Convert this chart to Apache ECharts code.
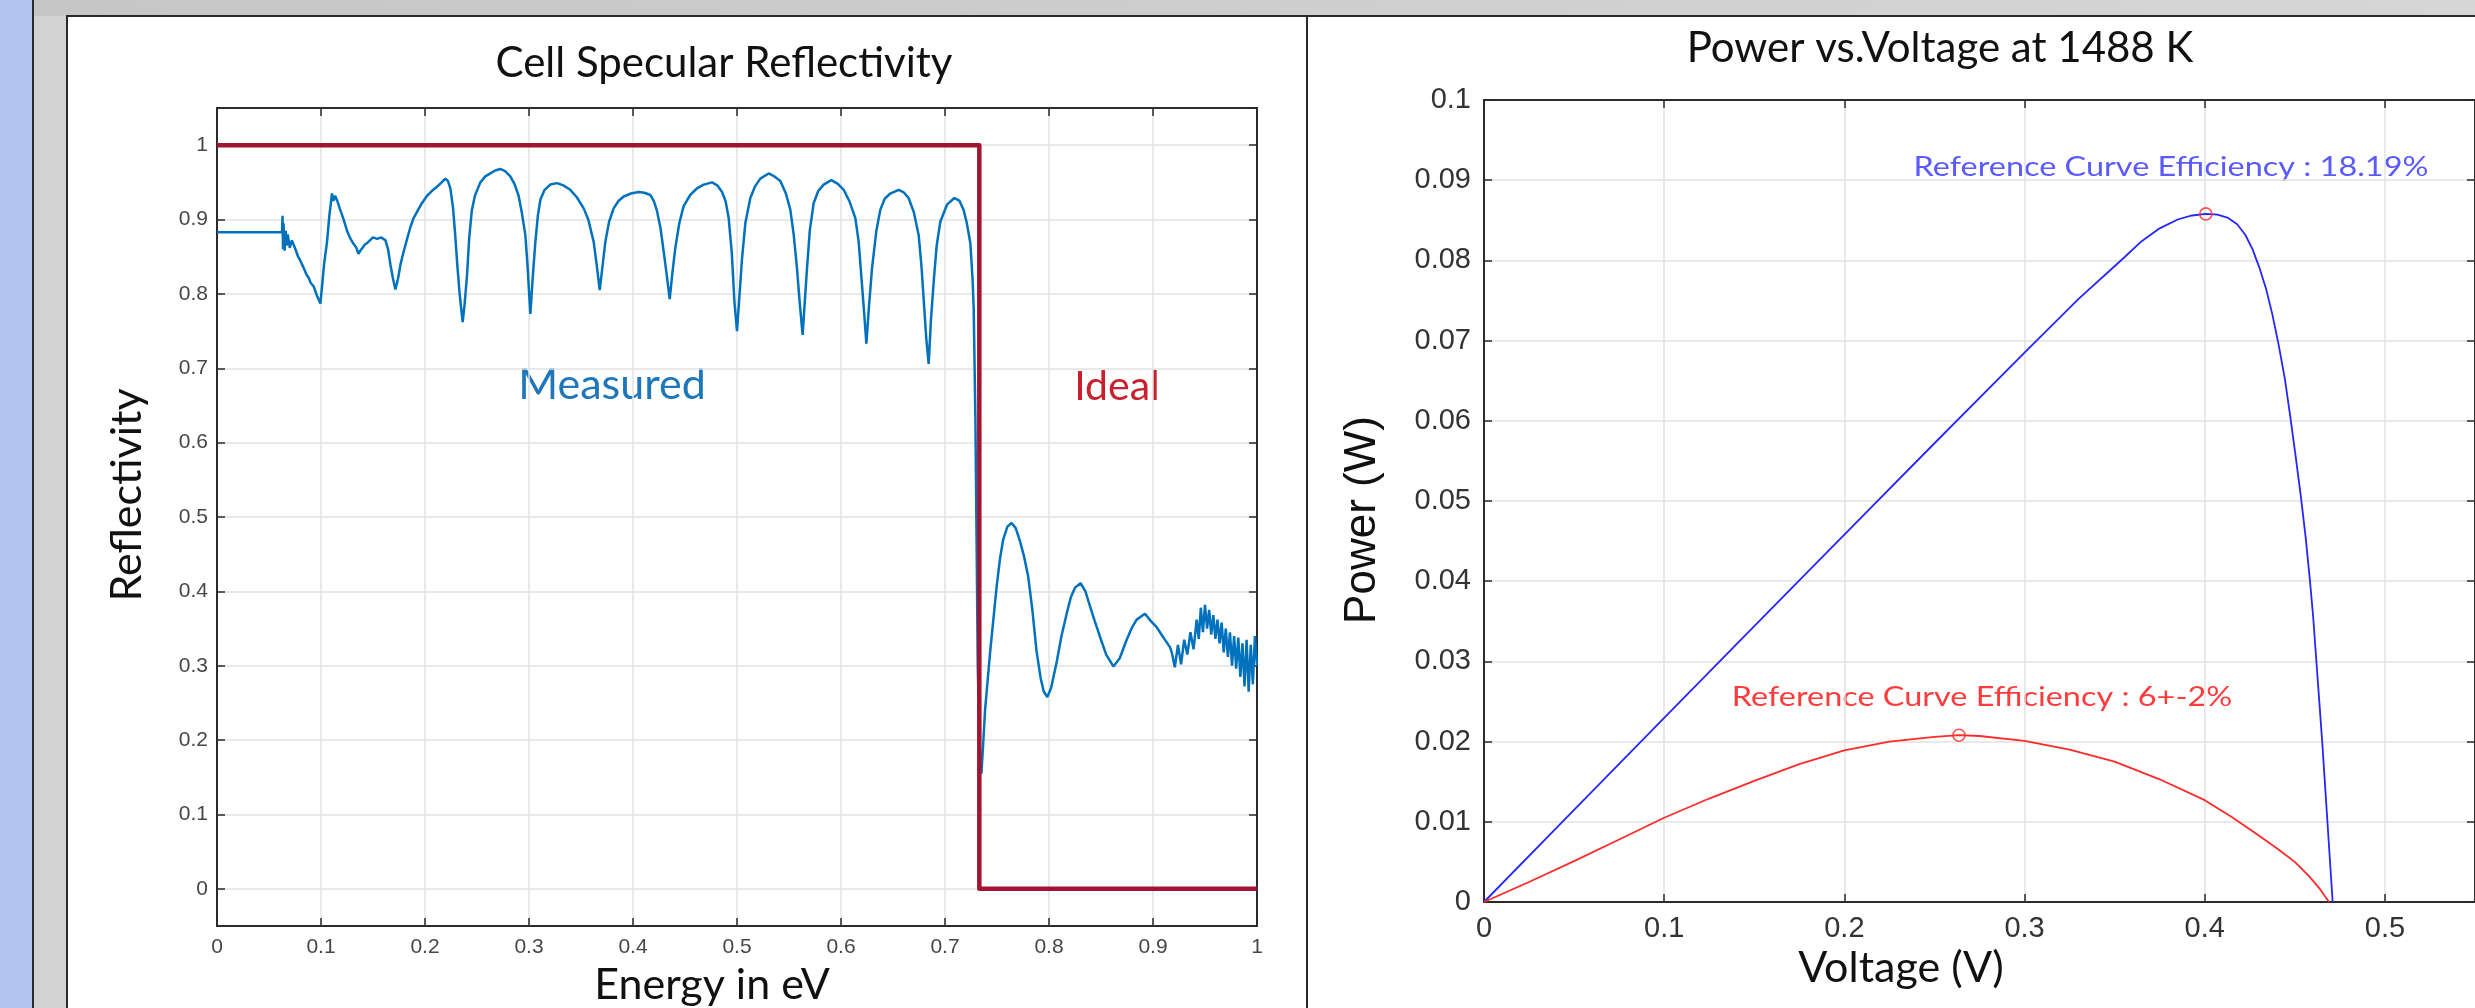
<!DOCTYPE html>
<html>
<head>
<meta charset="utf-8">
<script src="https://cdn.jsdelivr.net/npm/echarts@6/dist/echarts.min.js"></script>
<style>
html,body{margin:0;padding:0;background:#fff;}
#chart{width:2475px;height:1008px;}
</style>
</head>
<body>
<div id="chart"></div>
<script>
// ---------- Left chart: Cell Specular Reflectivity ----------
const measuredEnergy = [
0,0.02,0.04,0.0625,0.063,0.0635,0.064,0.065,0.066,0.067,0.068,0.070,0.072,0.0737,0.076,0.078,0.080,0.0833,0.086,0.088,0.090,0.093,0.096,0.0994,
0.101,0.103,0.1058,0.108,0.1106,0.112,0.1135,0.1154,0.118,0.1218,0.125,0.128,0.131,0.134,0.136,0.1378,0.140,0.142,0.144,0.147,0.150,0.154,0.158,0.162,0.1645,0.1667,0.169,0.1715,
0.174,0.1765,0.1795,0.183,0.186,0.189,0.193,0.197,0.202,0.207,0.2115,0.216,0.2196,0.222,0.2244,0.227,0.229,0.231,0.2333,0.2362,
0.238,0.2404,0.2425,0.245,0.248,0.2532,0.258,0.2628,0.2675,0.2724,0.277,0.282,0.286,0.290,0.293,0.2965,0.2985,0.3013,
0.3035,0.306,0.3085,0.311,0.315,0.3205,0.327,0.333,0.3397,0.346,0.3526,0.357,0.3622,0.365,0.368,
0.3705,0.3734,0.377,0.3814,0.386,0.391,0.398,0.4054,0.411,0.4167,0.420,0.423,0.4265,0.4295,0.4325,0.4353,
0.438,0.4407,0.4445,0.4487,0.455,0.4615,0.468,0.476,0.481,0.4856,0.489,0.492,0.495,0.4975,0.5,
0.5025,0.5048,0.508,0.5128,0.5175,0.5224,0.5304,0.536,0.5417,0.547,0.5513,0.5545,0.5577,0.5605,0.5631,
0.5652,0.5673,0.570,0.5737,0.578,0.5833,0.5907,0.597,0.6026,0.608,0.6138,0.617,0.6202,0.6225,0.6244,
0.627,0.6298,0.634,0.6378,0.642,0.6474,0.6554,0.660,0.665,0.670,0.6747,0.6775,0.6801,0.682,0.6843,
0.6865,0.6891,0.692,0.6955,0.7019,0.709,0.714,0.7179,0.721,0.7244,0.7265,0.7276,0.7292,0.7305,0.7315,0.733,0.735,
0.7365,0.7385,0.7433,0.7497,0.753,0.756,0.760,0.764,0.768,0.772,0.776,0.780,0.784,0.788,0.792,0.795,0.7984,
0.802,0.8074,0.812,0.817,0.821,0.825,0.8304,0.835,0.8394,0.844,0.849,0.855,0.8619,0.868,0.8747,0.880,0.8843,0.8923,0.898,0.9035,0.910,0.9163,
0.918,0.921,0.924,0.927,0.930,0.933,0.936,0.939,0.942,0.944,0.946,0.948,0.950,0.952,0.954,0.956,0.958,0.960,0.962,0.964,0.966,0.968,0.970,
0.972,0.974,0.976,0.978,0.980,0.982,0.984,0.986,0.988,0.990,0.992,0.994,0.996,0.998,1.0
];
const measuredReflectivity = [
0.883,0.883,0.883,0.883,0.905,0.86,0.895,0.858,0.885,0.865,0.88,0.862,0.872,0.866,0.858,0.85,0.845,0.835,0.826,0.822,0.815,0.81,0.798,0.787,
0.81,0.84,0.87,0.905,0.935,0.925,0.932,0.926,0.915,0.9,0.885,0.875,0.868,0.862,0.854,0.858,0.862,0.866,0.868,0.872,0.876,0.874,0.876,0.872,0.86,0.84,0.822,0.806,
0.82,0.84,0.857,0.875,0.89,0.902,0.912,0.922,0.932,0.939,0.944,0.95,0.955,0.952,0.942,0.915,0.88,0.84,0.8,0.762,
0.785,0.825,0.875,0.912,0.932,0.95,0.958,0.962,0.966,0.968,0.965,0.958,0.948,0.932,0.91,0.879,0.84,0.773,
0.82,0.868,0.905,0.927,0.94,0.947,0.949,0.946,0.94,0.93,0.915,0.9,0.87,0.84,0.805,
0.835,0.87,0.897,0.915,0.925,0.931,0.935,0.937,0.936,0.933,0.925,0.912,0.888,0.857,0.825,0.793,
0.83,0.862,0.895,0.918,0.933,0.942,0.947,0.95,0.946,0.937,0.925,0.902,0.855,0.79,0.75,
0.8,0.847,0.895,0.929,0.945,0.955,0.962,0.958,0.952,0.935,0.913,0.88,0.834,0.785,0.745,
0.79,0.834,0.885,0.922,0.938,0.947,0.953,0.948,0.94,0.925,0.902,0.87,0.812,0.77,0.733,
0.785,0.834,0.885,0.913,0.928,0.935,0.94,0.937,0.929,0.91,0.879,0.835,0.78,0.74,0.706,
0.765,0.816,0.865,0.897,0.92,0.929,0.925,0.913,0.895,0.868,0.82,0.78,0.636,0.45,0.3,0.2,0.155,
0.19,0.24,0.317,0.407,0.445,0.47,0.487,0.492,0.485,0.468,0.447,0.42,0.375,0.32,0.283,0.265,0.258,
0.27,0.305,0.34,0.37,0.392,0.405,0.411,0.4,0.38,0.36,0.339,0.315,0.299,0.31,0.335,0.352,0.362,0.37,0.36,0.352,0.338,0.325,
0.318,0.298,0.328,0.302,0.335,0.315,0.345,0.322,0.362,0.336,0.378,0.345,0.382,0.35,0.375,0.342,0.368,0.336,0.362,0.33,0.358,0.318,0.35,
0.312,0.345,0.3,0.34,0.296,0.338,0.285,0.33,0.272,0.335,0.265,0.328,0.275,0.34,0.3
];
const idealEnergy = [0, 0.733, 0.733, 1];
const idealReflectivity = [1, 1, 0, 0];

// ---------- Right chart: Power vs. Voltage ----------
const refVoltage = [0,0.05,0.1,0.15,0.2,0.25,0.3,0.33,0.355,0.365,0.375,0.385,0.393,0.4006,0.407,0.413,0.418,0.4225,0.4265,0.4305,0.434,0.4375,0.441,0.4445,0.4475,0.4505,0.4535,0.456,0.4583,0.4602,0.4619,0.4652,0.4681,0.471];
const refPower   = [0,0.01148,0.02296,0.0344,0.0458,0.0572,0.0685,0.0752,0.0803,0.0824,0.084,0.0851,0.0856,0.0858,0.0857,0.0853,0.0845,0.0832,0.0814,0.079,0.0765,0.0733,0.0695,0.0652,0.0605,0.0555,0.0503,0.0455,0.0403,0.0355,0.0302,0.02,0.01,0];
const lowVoltage = [0,0.025,0.05,0.075,0.1,0.125,0.15,0.175,0.2,0.225,0.25,0.2636,0.275,0.3,0.325,0.35,0.375,0.4,0.415,0.43,0.44,0.45,0.458,0.464,0.469];
const lowPower   = [0,0.0025,0.0051,0.0078,0.0105,0.0129,0.0151,0.0172,0.0189,0.02,0.0206,0.0208,0.0207,0.0201,0.019,0.0175,0.0153,0.0127,0.0106,0.0083,0.0067,0.005,0.0032,0.0016,0];
const mppVoltage = [0.4006, 0.2636];
const mppPower   = [0.0858, 0.0208];

const zip = (a, b) => a.map((v, i) => [v, b[i]]);

const dark = '#2b2b2b';
function axisBase(extra) {
  return Object.assign({
    type: 'value',
    axisLine: { show: true, onZero: false, lineStyle: { color: dark, width: 2 } },
    axisTick: { show: true, inside: true, length: 8, lineStyle: { color: dark, width: 1.5 } },
    splitLine: { show: false },
    axisLabel: { show: false }
  }, extra);
}
const gridLine = { show: true, lineStyle: { color: '#e2e2e2', width: 1.5 } };
const smallLbl = { show: true, fontSize: 21, color: '#474747', fontFamily: '"Liberation Sans", Arial, sans-serif' };
const bigLbl = { show: true, fontSize: 29, color: '#333', fontFamily: '"Liberation Sans", Arial, sans-serif' };

const option = {
  animation: false,
  backgroundColor: '#ffffff',
  grid: [
    { left: 217, top: 108, width: 1040, height: 818 },
    { left: 1484, top: 100, width: 992, height: 802 }
  ],
  xAxis: [
    axisBase({ gridIndex: 0, position: 'bottom', min: 0, max: 1, interval: 0.1,
      splitLine: gridLine, axisLabel: Object.assign({}, smallLbl, { margin: 11 }) }),
    axisBase({ gridIndex: 0, position: 'top', min: 0, max: 1, interval: 0.1 }),
    axisBase({ gridIndex: 1, position: 'bottom', min: 0, max: 0.55, interval: 0.1,
      splitLine: gridLine, axisLabel: Object.assign({}, bigLbl, { margin: 12, showMaxLabel: false }) }),
    axisBase({ gridIndex: 1, position: 'top', min: 0, max: 0.55, interval: 0.1 })
  ],
  yAxis: [
    axisBase({ gridIndex: 0, position: 'left', min: -0.05, max: 1.05, splitNumber: 11,
      splitLine: gridLine, axisLabel: Object.assign({}, smallLbl, { margin: 9, showMinLabel: false, showMaxLabel: false }) }),
    axisBase({ gridIndex: 0, position: 'right', min: -0.05, max: 1.05, splitNumber: 11 }),
    axisBase({ gridIndex: 1, position: 'left', min: 0, max: 0.1, interval: 0.01,
      splitLine: gridLine, axisLabel: Object.assign({}, bigLbl, { margin: 13 }) }),
    axisBase({ gridIndex: 1, position: 'right', min: 0, max: 0.1, interval: 0.01 })
  ],
  series: [
    { name: 'Measured', type: 'line', xAxisIndex: 0, yAxisIndex: 0, data: zip(measuredEnergy, measuredReflectivity),
      showSymbol: false, lineStyle: { color: '#0072BD', width: 2.5 }, z: 3 },
    { name: 'Ideal', type: 'line', xAxisIndex: 0, yAxisIndex: 0, data: zip(idealEnergy, idealReflectivity),
      showSymbol: false, lineStyle: { color: '#A2142F', width: 4.5, join: 'round' }, z: 4 },
    { name: 'Reference', type: 'line', xAxisIndex: 2, yAxisIndex: 2, data: zip(refVoltage, refPower),
      showSymbol: false, lineStyle: { color: '#2626ff', width: 1.8 }, z: 3 },
    { name: 'Low', type: 'line', xAxisIndex: 2, yAxisIndex: 2, data: zip(lowVoltage, lowPower),
      showSymbol: false, lineStyle: { color: '#ff2a2a', width: 1.8 }, z: 3 },
    { name: 'MPP', type: 'scatter', xAxisIndex: 2, yAxisIndex: 2, data: zip(mppVoltage, mppPower),
      symbol: 'circle', symbolSize: 12,
      itemStyle: { color: 'rgba(0,0,0,0)', borderColor: '#ff2a2a', borderWidth: 1.6 }, z: 5 }
  ],
  graphic: [
    { type: 'rect', silent: true, shape: { x: 0, y: 0, width: 33, height: 1008 }, style: { fill: '#b3c5ee' } },
    { type: 'rect', silent: true, shape: { x: 33, y: 0, width: 2442, height: 16 },
      style: { fill: new echarts.graphic.LinearGradient(0, 0, 1, 0, [{ offset: 0, color: '#c6c6c6' }, { offset: 1, color: '#d6d6d6' }]) } },
    { type: 'rect', silent: true, shape: { x: 33, y: 16, width: 34, height: 992 }, style: { fill: '#d3d3d3' } },
    { type: 'rect', silent: true, shape: { x: 32, y: 0, width: 2, height: 1008 }, style: { fill: '#2a2a2a' } },
    { type: 'rect', silent: true, shape: { x: 66, y: 15, width: 2, height: 993 }, style: { fill: '#2a2a2a' } },
    { type: 'rect', silent: true, shape: { x: 66, y: 15, width: 2409, height: 2 }, style: { fill: '#2a2a2a' } },
    { type: 'rect', silent: true, shape: { x: 1306, y: 15, width: 2, height: 993 }, style: { fill: '#2a2a2a' } },

    { type: 'text', x: 724, y: 63, style: { text: 'Cell Specular Reflectivity', font: '42px Lato', fill: '#111', textAlign: 'center', textVerticalAlign: 'middle' } },
    { type: 'text', x: 712, y: 985, style: { text: 'Energy in eV', font: '43px Lato', fill: '#111', textAlign: 'center', textVerticalAlign: 'middle' } },
    { type: 'text', x: 127, y: 495, rotation: Math.PI / 2, style: { text: 'Reflectivity', font: '43px Lato', fill: '#111', textAlign: 'center', textVerticalAlign: 'middle' } },
    { type: 'text', x: 612, y: 385, style: { text: 'Measured', font: '43px Lato', fill: '#1f77b9', textAlign: 'center', textVerticalAlign: 'middle' } },
    { type: 'text', x: 1117, y: 387, style: { text: 'Ideal', font: '41px Lato', fill: '#c8202d', textAlign: 'center', textVerticalAlign: 'middle' } },

    { type: 'text', x: 1940, y: 48, style: { text: 'Power vs.Voltage at 1488 K', font: '42px Lato', fill: '#111', textAlign: 'center', textVerticalAlign: 'middle' } },
    { type: 'text', x: 1901, y: 968, style: { text: 'Voltage (V)', font: '43px Lato', fill: '#111', textAlign: 'center', textVerticalAlign: 'middle' } },
    { type: 'text', x: 1363, y: 520, rotation: Math.PI / 2, style: { text: 'Power (W)', font: '44px "Liberation Sans"', fill: '#111', textAlign: 'center', textVerticalAlign: 'middle' } },
    { type: 'text', x: 2171, y: 167, scaleX: 1.2, style: { text: 'Reference Curve Efficiency : 18.19%', font: '27px Lato', fill: '#5a5aff', textAlign: 'center', textVerticalAlign: 'middle' } },
    { type: 'text', x: 1982, y: 697, scaleX: 1.2, style: { text: 'Reference Curve Efficiency : 6+-2%', font: '27px Lato', fill: '#ff3b3b', textAlign: 'center', textVerticalAlign: 'middle' } }
  ]
};

const chart = echarts.init(document.getElementById('chart'), null, { renderer: 'canvas' });
chart.setOption(option);
</script>
</body>
</html>
